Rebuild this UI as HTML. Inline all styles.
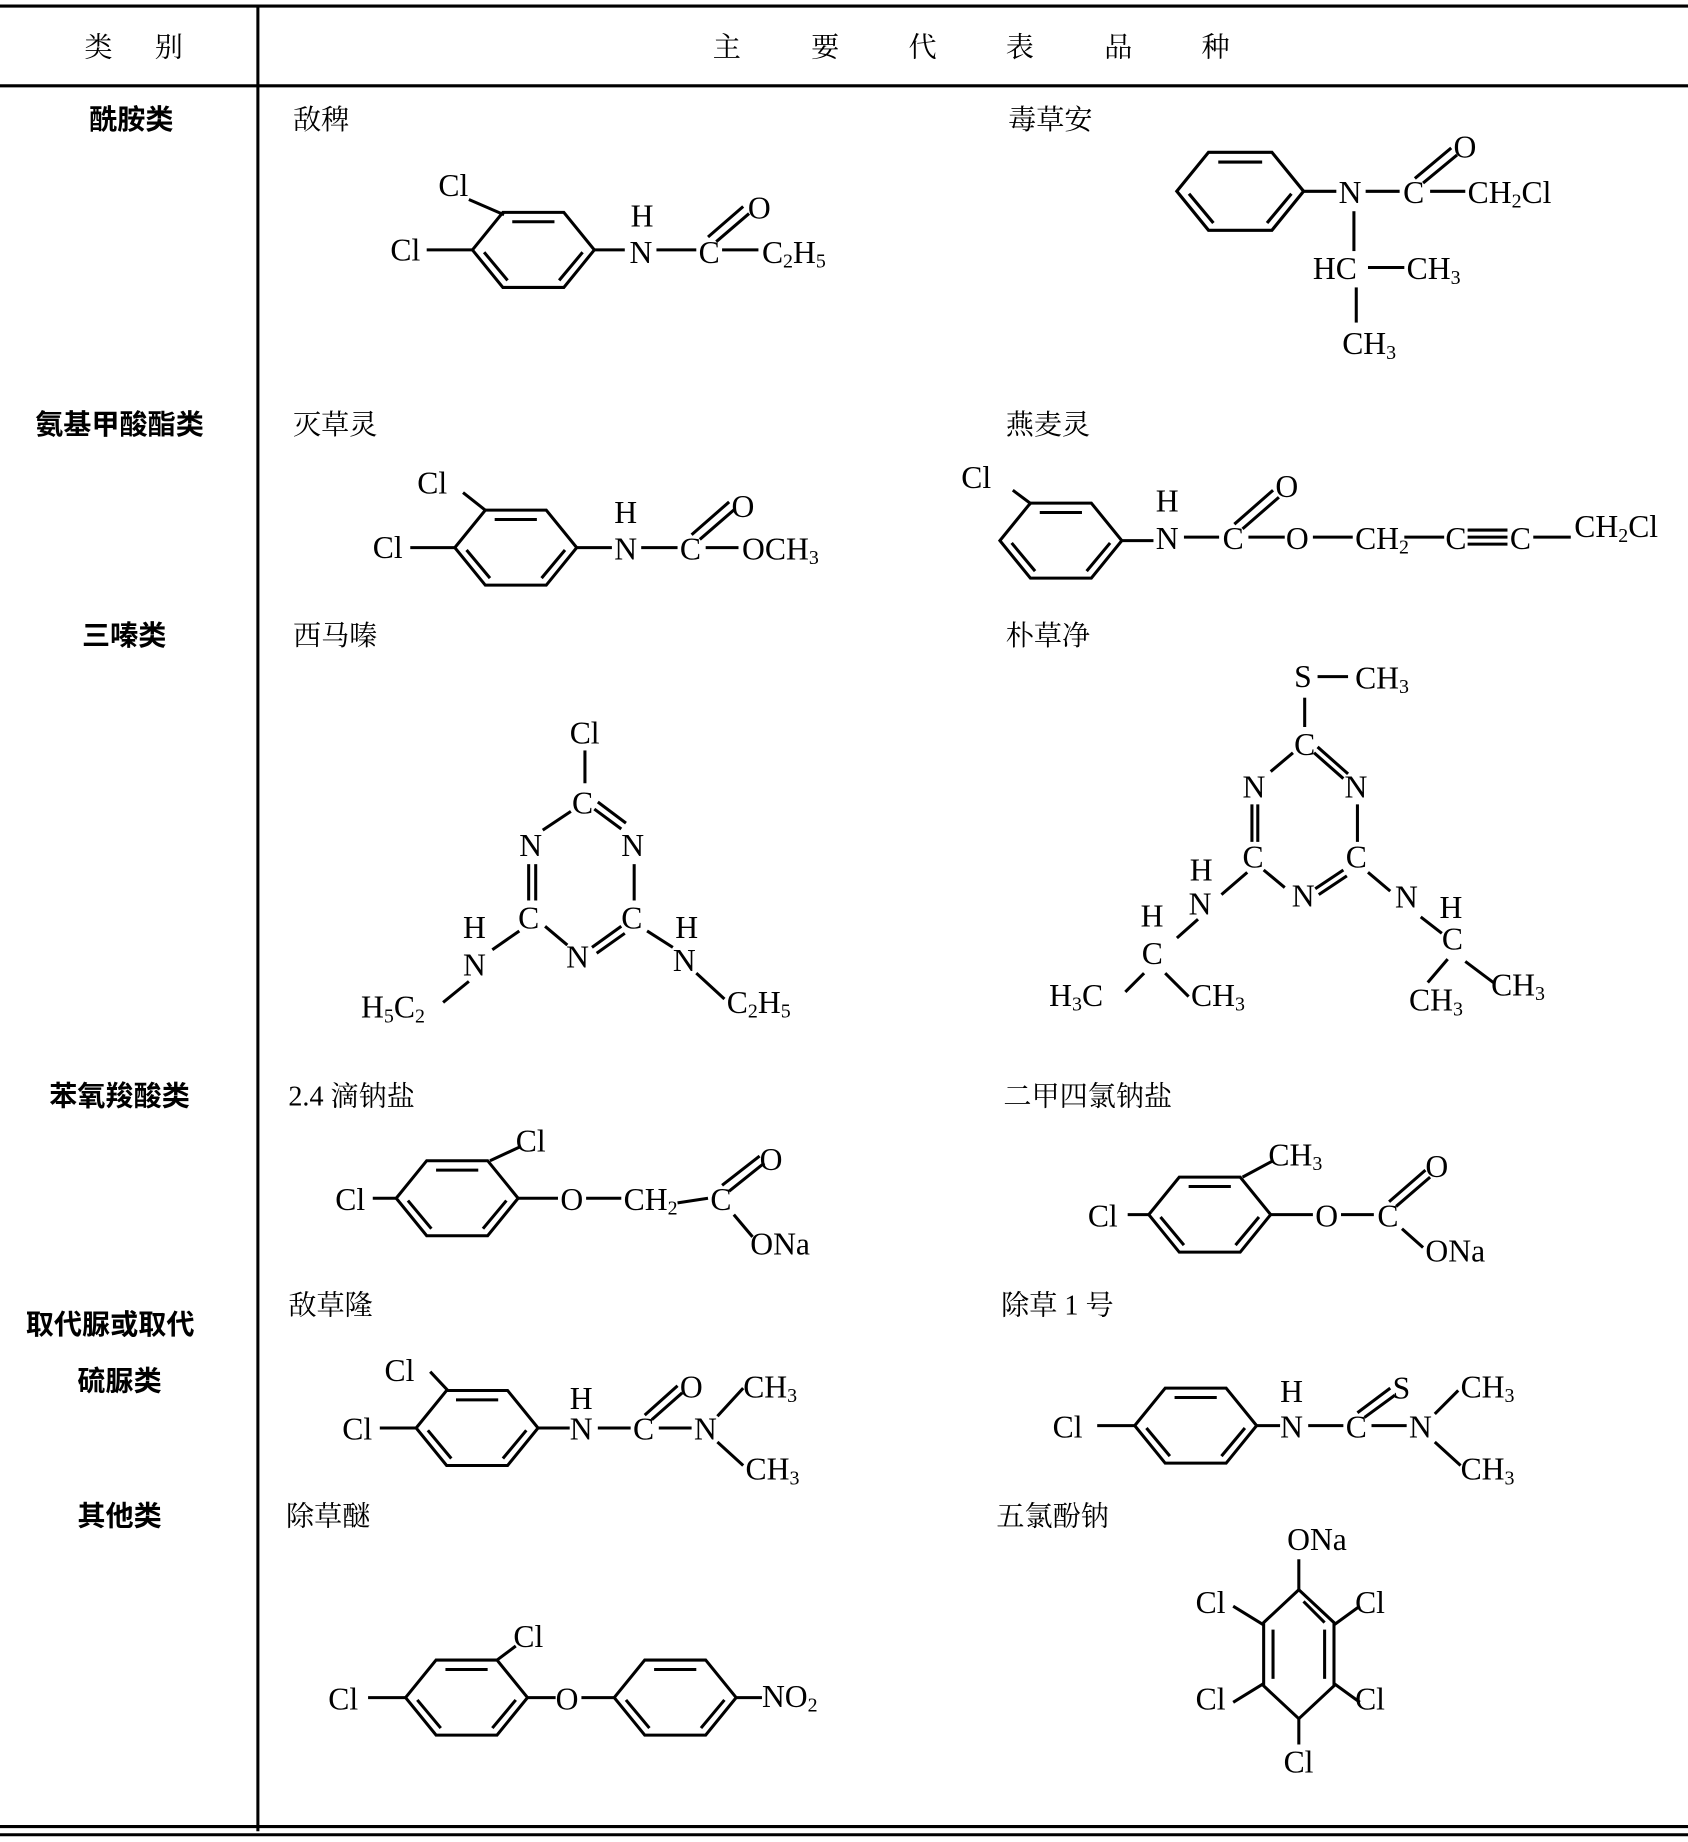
<!DOCTYPE html>
<html><head><meta charset="utf-8"><style>
html,body{margin:0;padding:0;background:#fff}
svg{display:block}
.t{font-family:"Liberation Serif","Noto Serif CJK SC",serif;font-size:27px;fill:#000}
.s{font-size:17px}
.cj{font-family:"Liberation Serif","Noto Serif CJK SC","Noto Sans CJK SC",serif;font-size:24px;fill:#000}
.cb{font-family:"Liberation Sans","Noto Sans CJK SC",sans-serif;font-size:24px;font-weight:bold;fill:#000}
line,path{stroke:#000;stroke-width:2.6;fill:none}
</style></head><body>
<svg width="1688" height="1842" viewBox="0 0 1440 1571" xmlns="http://www.w3.org/2000/svg">
<defs>
<g id="bz"><path d="M-52 0 L-26 -32 L26 -32 L52 0 L26 32 L-26 32 Z" stroke-width="3"/>
<line x1="-18" y1="-24" x2="18" y2="-24"/><line x1="-42" y1="2" x2="-22" y2="26"/><line x1="42" y1="2" x2="22" y2="26"/></g>
</defs>
<!-- table frame -->
<line x1="0" y1="5" x2="1440" y2="5" stroke-width="4"/>
<line x1="0" y1="73" x2="1440" y2="73" stroke-width="2.5"/>
<line x1="220" y1="5" x2="220" y2="1562" stroke-width="2"/>
<line x1="0" y1="1558" x2="1440" y2="1558" stroke-width="2"/>
<line x1="0" y1="1565" x2="1440" y2="1565" stroke-width="3"/>
<text class="cj" x="72" y="48">类</text><text class="cj" x="132" y="48">别</text>
<text class="cj" x="608" y="48">主</text><text class="cj" x="692" y="48">要</text><text class="cj" x="775" y="48">代</text><text class="cj" x="858" y="48">表</text><text class="cj" x="942" y="48">品</text><text class="cj" x="1025" y="48">种</text>
<!-- categories -->
<text class="cb" x="76" y="110">酰胺类</text>
<text class="cb" x="30" y="370">氨基甲酸酯类</text>
<text class="cb" x="70" y="550">三嗪类</text>
<text class="cb" x="42" y="943">苯氧羧酸类</text>
<text class="cb" x="22" y="1138">取代脲或取代</text>
<text class="cb" x="66" y="1186">硫脲类</text>
<text class="cb" x="66" y="1301">其他类</text>
<!-- names -->
<text class="cj" x="250" y="110">敌稗</text><text class="cj" x="860" y="110">毒草安</text>
<text class="cj" x="250" y="370">灭草灵</text><text class="cj" x="858" y="370">燕麦灵</text>
<text class="cj" x="250" y="550">西马嗪</text><text class="cj" x="858" y="550">朴草净</text>
<text class="cj" x="246" y="943">2.4 滴钠盐</text><text class="cj" x="856" y="943">二甲四氯钠盐</text>
<text class="cj" x="246" y="1121">敌草隆</text><text class="cj" x="854" y="1121">除草 1 号</text>
<text class="cj" x="244" y="1301">除草醚</text><text class="cj" x="850" y="1301">五氯酚钠</text>

<!-- 敌稗 -->
<use href="#bz" x="455" y="213"/>
<text class="t" x="374" y="167">Cl</text><line x1="400" y1="170" x2="430" y2="183"/>
<text class="t" x="333" y="222">Cl</text><line x1="364" y1="213" x2="403" y2="213"/>
<line x1="507" y1="213" x2="533" y2="213"/>
<text class="t" x="538" y="193">H</text><text class="t" x="537" y="224">N</text>
<line x1="560" y1="213" x2="594" y2="213"/><text class="t" x="596" y="224">C</text>
<line x1="604" y1="202" x2="634" y2="176"/><line x1="611" y1="206" x2="639" y2="182"/>
<text class="t" x="638" y="186">O</text>
<line x1="616" y1="213" x2="647" y2="213"/>
<text class="t" x="650" y="224">C<tspan class="s" dy="4">2</tspan><tspan dy="-4">H</tspan><tspan class="s" dy="4">5</tspan></text>

<!-- 毒草安 -->
<use href="#bz" x="1058" y="163" transform="translate(1058 163) scale(1.04) translate(-1058 -163)"/>
<line x1="1111" y1="163" x2="1140" y2="163"/>
<text class="t" x="1142" y="173">N</text>
<line x1="1165" y1="163" x2="1194" y2="163"/><text class="t" x="1197" y="173">C</text>
<line x1="1207" y1="152" x2="1238" y2="126"/><line x1="1214" y1="156" x2="1243" y2="132"/>
<text class="t" x="1240" y="134">O</text>
<line x1="1220" y1="163" x2="1250" y2="163"/>
<text class="t" x="1252" y="173">CH<tspan class="s" dy="4">2</tspan><tspan dy="-4">Cl</tspan></text>
<line x1="1155" y1="180" x2="1155" y2="214"/>
<text class="t" x="1120" y="238">HC</text>
<line x1="1167" y1="228" x2="1198" y2="228"/>
<text class="t" x="1200" y="238">CH<tspan class="s" dy="4">3</tspan></text>
<line x1="1157" y1="245" x2="1157" y2="275"/>
<text class="t" x="1145" y="302">CH<tspan class="s" dy="4">3</tspan></text>

<!-- 灭草灵 -->
<use href="#bz" x="440" y="467"/>
<text class="t" x="356" y="421">Cl</text><line x1="395" y1="420" x2="414" y2="435"/>
<text class="t" x="318" y="476">Cl</text><line x1="350" y1="467" x2="388" y2="467"/>
<line x1="492" y1="467" x2="522" y2="467"/>
<text class="t" x="524" y="446">H</text><text class="t" x="524" y="477">N</text>
<line x1="547" y1="467" x2="578" y2="467"/><text class="t" x="580" y="477">C</text>
<line x1="590" y1="456" x2="622" y2="428"/><line x1="597" y1="460" x2="627" y2="434"/>
<text class="t" x="624" y="441">O</text>
<line x1="602" y1="467" x2="630" y2="467"/>
<text class="t" x="633" y="477">OCH<tspan class="s" dy="4">3</tspan></text>

<!-- 燕麦灵 -->
<text class="t" x="820" y="416">Cl</text><line x1="864" y1="418" x2="880" y2="430"/>
<use href="#bz" x="905" y="461"/>
<line x1="957" y1="461" x2="984" y2="461"/>
<text class="t" x="986" y="436">H</text><text class="t" x="986" y="468">N</text>
<line x1="1010" y1="458" x2="1040" y2="458"/><text class="t" x="1043" y="468">C</text>
<line x1="1053" y1="447" x2="1086" y2="418"/><line x1="1060" y1="451" x2="1091" y2="424"/>
<text class="t" x="1088" y="424">O</text>
<line x1="1065" y1="458" x2="1096" y2="458"/><text class="t" x="1097" y="468">O</text>
<line x1="1120" y1="458" x2="1154" y2="458"/>
<text class="t" x="1156" y="468">CH<tspan class="s" dy="4">2</tspan></text>
<line x1="1198" y1="458" x2="1232" y2="458"/>
<text class="t" x="1233" y="468">C</text>
<line x1="1252" y1="452" x2="1286" y2="452"/><line x1="1252" y1="458" x2="1286" y2="458"/><line x1="1252" y1="464" x2="1286" y2="464"/>
<text class="t" x="1288" y="468">C</text>
<line x1="1308" y1="458" x2="1340" y2="458"/>
<text class="t" x="1343" y="458">CH<tspan class="s" dy="4">2</tspan><tspan dy="-4">Cl</tspan></text>

<!-- 西马嗪 -->
<text class="t" x="486" y="634">Cl</text>
<line x1="499" y1="640" x2="499" y2="668"/>
<text class="t" x="488" y="694">C</text>
<line x1="487" y1="692" x2="463" y2="708"/>
<line x1="510" y1="684" x2="534" y2="702"/><line x1="507" y1="690" x2="530" y2="707"/>
<text class="t" x="443" y="730">N</text><text class="t" x="530" y="730">N</text>
<line x1="451" y1="737" x2="451" y2="768"/><line x1="457" y1="737" x2="457" y2="768"/>
<line x1="541" y1="737" x2="541" y2="768"/>
<text class="t" x="442" y="792">C</text><text class="t" x="530" y="792">C</text>
<line x1="465" y1="790" x2="484" y2="806"/>
<text class="t" x="483" y="825">N</text>
<line x1="505" y1="808" x2="530" y2="790"/><line x1="509" y1="813" x2="533" y2="796"/>
<line x1="443" y1="794" x2="420" y2="810"/>
<text class="t" x="395" y="800">H</text><text class="t" x="395" y="832">N</text>
<line x1="400" y1="837" x2="378" y2="855"/>
<text class="t" x="308" y="868">H<tspan class="s" dy="4">5</tspan><tspan dy="-4">C</tspan><tspan class="s" dy="4">2</tspan></text>
<line x1="552" y1="794" x2="574" y2="808"/>
<text class="t" x="576" y="800">H</text><text class="t" x="574" y="828">N</text>
<line x1="594" y1="830" x2="618" y2="852"/>
<text class="t" x="620" y="864">C<tspan class="s" dy="4">2</tspan><tspan dy="-4">H</tspan><tspan class="s" dy="4">5</tspan></text>

<!-- 朴草净 -->
<text class="t" x="1104" y="586">S</text><line x1="1124" y1="577" x2="1150" y2="577"/>
<text class="t" x="1156" y="587">CH<tspan class="s" dy="4">3</tspan></text>
<line x1="1113" y1="595" x2="1113" y2="620"/>
<text class="t" x="1104" y="644">C</text>
<line x1="1103" y1="642" x2="1084" y2="658"/>
<line x1="1124" y1="637" x2="1150" y2="660"/><line x1="1121" y1="642" x2="1146" y2="664"/>
<text class="t" x="1060" y="680">N</text><text class="t" x="1147" y="680">N</text>
<line x1="1068" y1="686" x2="1068" y2="718"/><line x1="1073" y1="686" x2="1073" y2="718"/>
<line x1="1158" y1="686" x2="1158" y2="718"/>
<text class="t" x="1060" y="740">C</text><text class="t" x="1148" y="740">C</text>
<line x1="1078" y1="742" x2="1096" y2="757"/>
<text class="t" x="1102" y="773">N</text>
<line x1="1122" y1="758" x2="1146" y2="742"/><line x1="1125" y1="763" x2="1149" y2="747"/>
<line x1="1064" y1="744" x2="1042" y2="763"/>
<text class="t" x="1015" y="751">H</text><text class="t" x="1014" y="780">N</text>
<line x1="1022" y1="784" x2="1004" y2="800"/>
<text class="t" x="973" y="790">H</text><text class="t" x="974" y="822">C</text>
<line x1="976" y1="830" x2="960" y2="846"/>
<text class="t" x="895" y="858">H<tspan class="s" dy="4">3</tspan><tspan dy="-4">C</tspan></text>
<line x1="994" y1="830" x2="1014" y2="850"/>
<text class="t" x="1016" y="858">CH<tspan class="s" dy="4">3</tspan></text>
<line x1="1167" y1="744" x2="1186" y2="760"/>
<text class="t" x="1190" y="774">N</text>
<text class="t" x="1228" y="783">H</text>
<line x1="1212" y1="782" x2="1230" y2="796"/>
<text class="t" x="1230" y="810">C</text>
<line x1="1235" y1="818" x2="1218" y2="838"/>
<line x1="1250" y1="820" x2="1274" y2="838"/>
<text class="t" x="1202" y="862">CH<tspan class="s" dy="4">3</tspan></text>
<text class="t" x="1272" y="849">CH<tspan class="s" dy="4">3</tspan></text>

<!-- 2.4滴钠盐 -->
<use href="#bz" x="390" y="1022"/>
<text class="t" x="440" y="982">Cl</text><line x1="444" y1="978" x2="418" y2="990"/>
<text class="t" x="286" y="1032">Cl</text><line x1="318" y1="1022" x2="338" y2="1022"/>
<line x1="442" y1="1022" x2="476" y2="1022"/>
<text class="t" x="478" y="1032">O</text>
<line x1="500" y1="1022" x2="530" y2="1022"/>
<text class="t" x="532" y="1032">CH<tspan class="s" dy="4">2</tspan></text>
<line x1="578" y1="1026" x2="604" y2="1022"/>
<text class="t" x="606" y="1032">C</text>
<line x1="616" y1="1011" x2="648" y2="986"/><line x1="622" y1="1016" x2="652" y2="992"/>
<text class="t" x="648" y="998">O</text>
<line x1="626" y1="1036" x2="642" y2="1055"/>
<text class="t" x="640" y="1070">ONa</text>

<!-- 二甲四氯钠盐 -->
<use href="#bz" x="1032" y="1036"/>
<text class="t" x="1082" y="994">CH<tspan class="s" dy="4">3</tspan></text><line x1="1086" y1="990" x2="1060" y2="1004"/>
<text class="t" x="928" y="1046">Cl</text><line x1="962" y1="1036" x2="980" y2="1036"/>
<line x1="1084" y1="1036" x2="1120" y2="1036"/>
<text class="t" x="1122" y="1046">O</text>
<line x1="1144" y1="1036" x2="1172" y2="1036"/>
<text class="t" x="1175" y="1046">C</text>
<line x1="1185" y1="1025" x2="1216" y2="998"/><line x1="1191" y1="1029" x2="1220" y2="1004"/>
<text class="t" x="1216" y="1004">O</text>
<line x1="1196" y1="1048" x2="1214" y2="1064"/>
<text class="t" x="1216" y="1076">ONa</text>

<!-- 敌草隆 -->
<use href="#bz" x="407" y="1218"/>
<text class="t" x="328" y="1178">Cl</text><line x1="367" y1="1170" x2="382" y2="1186"/>
<text class="t" x="292" y="1228">Cl</text><line x1="324" y1="1218" x2="355" y2="1218"/>
<line x1="459" y1="1218" x2="486" y2="1218"/>
<text class="t" x="486" y="1202">H</text><text class="t" x="486" y="1228">N</text>
<line x1="510" y1="1218" x2="538" y2="1218"/><text class="t" x="540" y="1228">C</text>
<line x1="550" y1="1207" x2="578" y2="1182"/><line x1="556" y1="1211" x2="582" y2="1188"/>
<text class="t" x="580" y="1192">O</text>
<line x1="562" y1="1218" x2="590" y2="1218"/>
<text class="t" x="592" y="1228">N</text>
<line x1="612" y1="1208" x2="634" y2="1184"/><line x1="612" y1="1230" x2="634" y2="1250"/>
<text class="t" x="634" y="1192">CH<tspan class="s" dy="4">3</tspan></text>
<text class="t" x="636" y="1262">CH<tspan class="s" dy="4">3</tspan></text>

<!-- 除草1号 -->
<use href="#bz" x="1020" y="1216"/>
<text class="t" x="898" y="1226">Cl</text><line x1="936" y1="1216" x2="968" y2="1216"/>
<line x1="1072" y1="1216" x2="1092" y2="1216"/>
<text class="t" x="1092" y="1196">H</text><text class="t" x="1092" y="1226">N</text>
<line x1="1116" y1="1216" x2="1146" y2="1216"/><text class="t" x="1148" y="1226">C</text>
<line x1="1158" y1="1205" x2="1186" y2="1184"/><line x1="1164" y1="1209" x2="1190" y2="1190"/>
<text class="t" x="1188" y="1193">S</text>
<line x1="1170" y1="1216" x2="1200" y2="1216"/>
<text class="t" x="1202" y="1226">N</text>
<line x1="1224" y1="1206" x2="1244" y2="1186"/><line x1="1224" y1="1230" x2="1246" y2="1250"/>
<text class="t" x="1246" y="1192">CH<tspan class="s" dy="4">3</tspan></text>
<text class="t" x="1246" y="1262">CH<tspan class="s" dy="4">3</tspan></text>

<!-- 除草醚 -->
<use href="#bz" x="398" y="1448"/>
<text class="t" x="438" y="1405">Cl</text><line x1="440" y1="1404" x2="424" y2="1416"/>
<text class="t" x="280" y="1458">Cl</text><line x1="314" y1="1448" x2="346" y2="1448"/>
<line x1="450" y1="1448" x2="474" y2="1448"/>
<text class="t" x="474" y="1458">O</text>
<line x1="496" y1="1448" x2="524" y2="1448"/>
<use href="#bz" x="576" y="1448"/>
<line x1="628" y1="1448" x2="650" y2="1448"/>
<text class="t" x="650" y="1456">NO<tspan class="s" dy="4">2</tspan></text>

<!-- 五氯酚钠 -->
<path d="M1108 1356 L1138 1384 L1138 1438 L1108 1466 L1078 1438 L1078 1384 Z" stroke-width="3"/>
<line x1="1086" y1="1390" x2="1086" y2="1432"/><line x1="1130" y1="1390" x2="1130" y2="1432"/>
<line x1="1112" y1="1366" x2="1130" y2="1384"/>
<text class="t" x="1098" y="1322">ONa</text>
<line x1="1108" y1="1330" x2="1108" y2="1356"/>
<text class="t" x="1020" y="1376">Cl</text><line x1="1052" y1="1370" x2="1078" y2="1386"/>
<text class="t" x="1156" y="1376">Cl</text><line x1="1138" y1="1386" x2="1160" y2="1370"/>
<text class="t" x="1020" y="1458">Cl</text><line x1="1052" y1="1452" x2="1078" y2="1436"/>
<text class="t" x="1156" y="1458">Cl</text><line x1="1138" y1="1436" x2="1160" y2="1452"/>
<line x1="1108" y1="1466" x2="1108" y2="1488"/>
<text class="t" x="1095" y="1512">Cl</text>
</svg>
</body></html>
